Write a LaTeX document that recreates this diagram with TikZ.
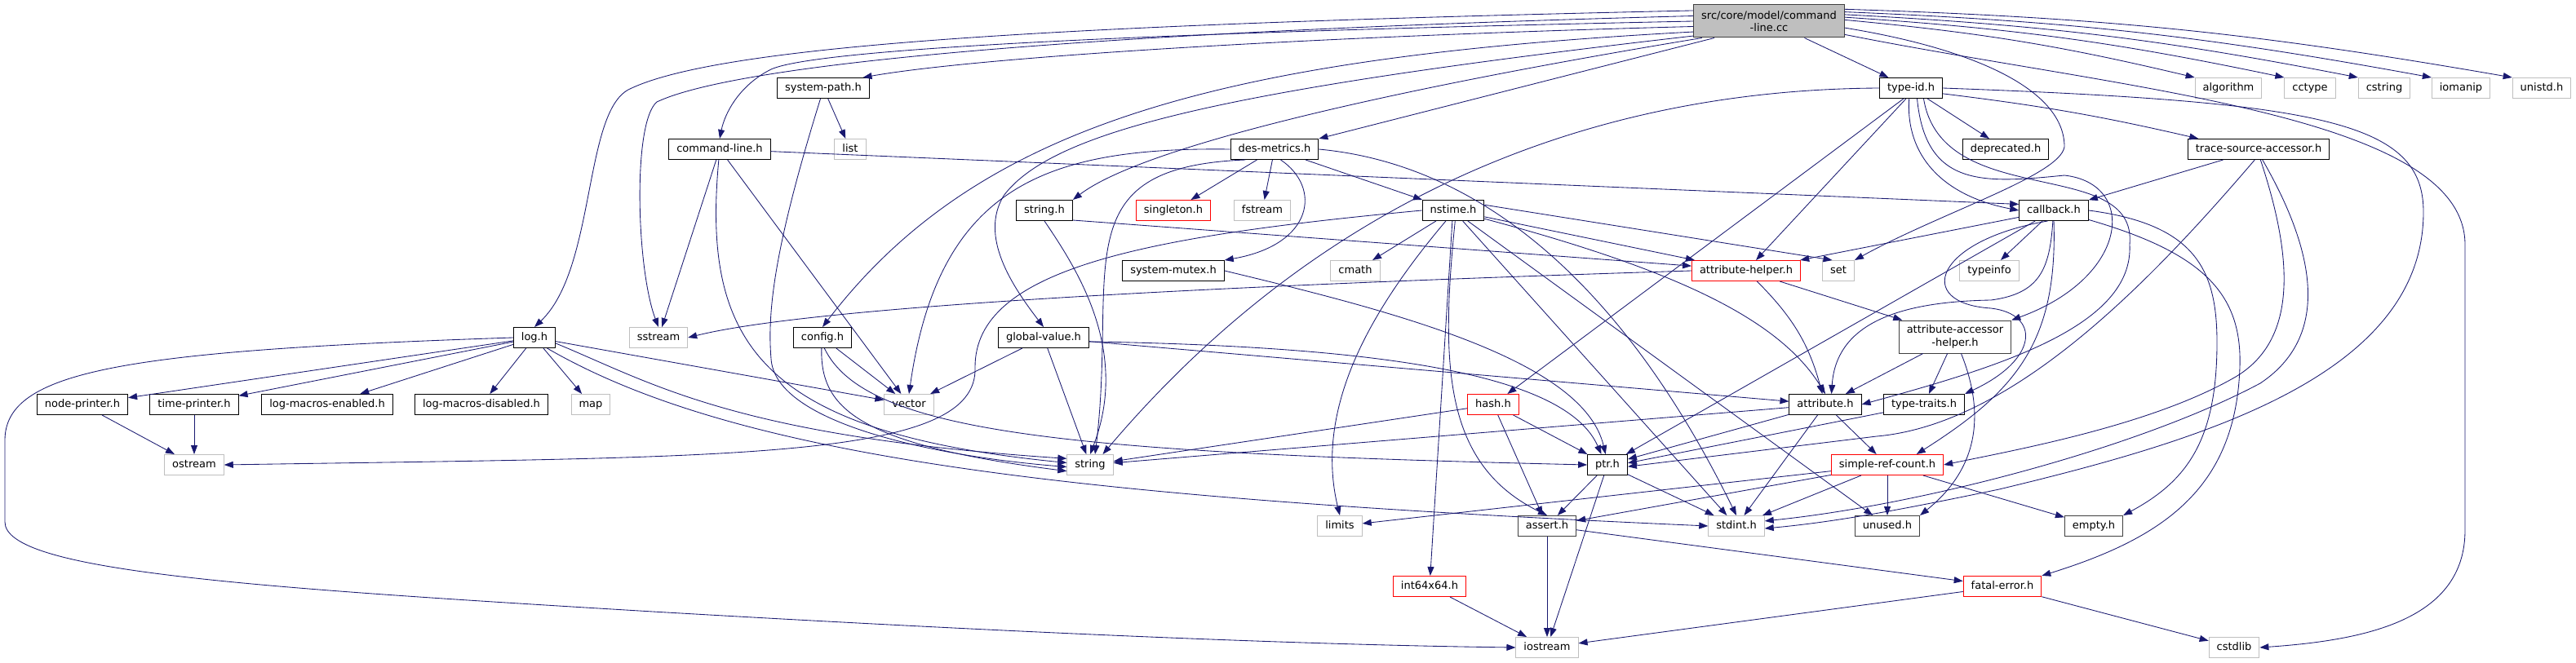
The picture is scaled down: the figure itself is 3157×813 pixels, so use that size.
\documentclass[tikz,border=0pt]{standalone}
\usepackage{fontspec}
\setmainfont{DejaVu Sans}
\usetikzlibrary{arrows.meta}

\definecolor{edgeblue}{HTML}{191970}
\definecolor{extgray}{HTML}{BFBFBF}
\definecolor{rootedge}{HTML}{404040}

\begin{document}
\begin{tikzpicture}[
  x=1pt, y=-1pt,
  hdrbox/.style ={rectangle, draw=black, fill=white, line width=1pt,
                  font=\fontsize{13}{15.5}\selectfont, inner xsep=9.5pt, inner ysep=0pt,
                  minimum height=25pt, text height=9.6pt, text depth=2.9pt},
  sysbox/.style ={hdrbox, draw=extgray},
  cutbox/.style ={hdrbox, draw=red},
  twoline/.style={align=center, text height=, text depth=, minimum height=40pt},
  rootbox/.style={hdrbox, twoline, fill=extgray, draw=rootedge},
  incl/.style   ={draw=edgeblue, line width=0.85pt, -{Stealth[length=11pt, width=8pt, inset=0pt]}},
]
\useasboundingbox (0,0) rectangle (3157,813);

% ---------------- the file itself ----------------
\node[rootbox] (root) at (2168,26) {src/core/model/command\\-line.cc};

% ---------------- rank 1 ----------------
\node[hdrbox] (syspath) at (1009,108) {system-path.h};
\node[hdrbox] (typeid)  at (2342,108) {type-id.h};
\node[sysbox] (algo)    at (2731,108) {algorithm};
\node[sysbox] (cctype)  at (2831,108) {cctype};
\node[sysbox] (cstring) at (2922,108) {cstring};
\node[sysbox] (iomanip) at (3016,108) {iomanip};
\node[sysbox] (unistd)  at (3115,108) {unistd.h};

% ---------------- rank 2 ----------------
\node[hdrbox] (cmdline) at (882,183)  {command-line.h};
\node[sysbox] (list)    at (1042,183) {list};
\node[hdrbox] (desmet)  at (1562,183) {des-metrics.h};
\node[hdrbox] (deprec)  at (2458,183) {deprecated.h};
\node[hdrbox] (tsacc)   at (2768,183) {trace-source-accessor.h};

% ---------------- rank 3 ----------------
\node[hdrbox] (strh)      at (1280,258) {string.h};
\node[cutbox] (singleton) at (1438,258) {singleton.h};
\node[sysbox] (fstream)   at (1547,258) {fstream};
\node[hdrbox] (nstime)    at (1781,258) {nstime.h};
\node[hdrbox] (callback)  at (2517,258) {callback.h};

% ---------------- rank 4 ----------------
\node[hdrbox] (sysmutex) at (1438,332) {system-mutex.h};
\node[sysbox] (cmath)    at (1661,332) {cmath};
\node[cutbox] (attrhelp) at (2140,332) {attribute-helper.h};
\node[sysbox] (set)      at (2253,332) {set};
\node[sysbox] (typeinfo) at (2438,332) {typeinfo};

% ---------------- rank 5 ----------------
\node[hdrbox] (logh)    at (655,414)  {log.h};
\node[sysbox] (sstream) at (807,414)  {sstream};
\node[hdrbox] (config)  at (1008,414) {config.h};
\node[hdrbox] (gvalue)  at (1279,414) {global-value.h};
\node[hdrbox, twoline, draw=rootedge] (attracc) at (2396,413) {attribute-accessor\\-helper.h};

% ---------------- rank 6 ----------------
\node[hdrbox] (nodepr)  at (101,496)  {node-printer.h};
\node[hdrbox] (timepr)  at (238,496)  {time-printer.h};
\node[hdrbox] (lmen)    at (401,496)  {log-macros-enabled.h};
\node[hdrbox] (lmdis)   at (590,496)  {log-macros-disabled.h};
\node[sysbox] (map)     at (724,496)  {map};
\node[sysbox] (vector)  at (1114,496) {vector};
\node[cutbox] (hash)    at (1830,496) {hash.h};
\node[hdrbox] (attr)    at (2237,496) {attribute.h};
\node[hdrbox] (ttraits) at (2358,496) {type-traits.h};

% ---------------- rank 7 ----------------
\node[sysbox] (ostream) at (238,570)  {ostream};
\node[sysbox] (string)  at (1336,570) {string};
\node[hdrbox] (ptr)     at (1970,570) {ptr.h};
\node[cutbox] (srcount) at (2313,570) {simple-ref-count.h};

% ---------------- rank 8 to 10 ----------------
\node[sysbox] (limits)   at (1642,645) {limits};
\node[hdrbox, draw=rootedge] (assert) at (1896,645) {assert.h};
\node[sysbox] (stdint)   at (2128,645) {stdint.h};
\node[hdrbox, draw=rootedge] (unused) at (2313,645) {unused.h};
\node[hdrbox, draw=rootedge] (empty)  at (2566,645) {empty.h};
\node[cutbox] (int64)    at (1752,719) {int64x64.h};
\node[cutbox] (fatal)    at (2454,719) {fatal-error.h};
\node[sysbox] (iostream) at (1896,794) {iostream};
\node[sysbox] (cstdlib)  at (2738,794) {cstdlib};

% ---------------- includes of command-line.cc ----------------
\draw[incl] (root.172) .. controls (1300,30) and (880,55) .. (770,110)
            .. controls (715,140) and (730,330) .. (logh.north);
\draw[incl] (root.176) .. controls (1300,40) and (900,80) .. (805,125)
            .. controls (775,150) and (780,330) .. (sstream.north);
\draw[incl] (root.180) .. controls (1400,40) and (1000,60) .. (945,85)
            .. controls (905,105) and (888,140) .. (cmdline.north);
\draw[incl] (root.184) .. controls (1600,45) and (1200,70) .. (syspath.15);
\draw[incl] (root.188) .. controls (1500,70) and (1200,150) .. (config.north);
\draw[incl] (root.191) .. controls (1500,110) and (1290,160) .. (1230,240)
            .. controls (1200,290) and (1240,350) .. (gvalue.north);
\draw[incl] (root.194) .. controls (1700,110) and (1400,180) .. (strh.north east);
\draw[incl] (root.197) -- (desmet.north east);
\draw[incl] (root) -- (typeid);
\draw[incl] (root.1) to[bend left=4] (algo.north west);
\draw[incl] (root.3) to[bend left=4] (cctype.north west);
\draw[incl] (root.5) to[bend left=4] (cstring.north west);
\draw[incl] (root.7) to[bend left=4] (iomanip.north west);
\draw[incl] (root.9) to[bend left=4] (unistd.north west);
\draw[incl] (root.-5) .. controls (2420,60) and (2530,110) .. (2530,180)
            .. controls (2525,215) and (2380,260) .. (set.north east);
\draw[incl] (root.-10) .. controls (2600,110) and (3021,140) .. (3021,300) -- (3021,650)
            .. controls (3021,760) and (2900,785) .. (cstdlib.east);

% ---------------- rank 1 headers ----------------
\draw[incl] (syspath) -- (list);
\draw[incl] (syspath.255) .. controls (950,300) and (940,380) .. (945,440)
            .. controls (950,520) and (1150,560) .. (string.185);

\draw[incl] (typeid) -- (deprec);
\draw[incl] (typeid.-10) to[bend left=3] (tsacc.170);
\draw[incl] (typeid.235) -- (hash);
\draw[incl] (typeid.245) -- (attrhelp);
\draw[incl] (typeid.west) .. controls (1950,110) and (1620,240) .. (string.40);
\draw[incl] (typeid.260) .. controls (2335,190) and (2380,240) .. (callback.west);
\draw[incl] (typeid.-60) .. controls (2360,230) and (2430,225) .. (2530,215)
            .. controls (2620,225) and (2610,340) .. (attracc.north east);
\draw[incl] (typeid.-40) .. controls (2380,260) and (2620,190) .. (2610,300)
            .. controls (2615,400) and (2450,450) .. (attr.east);
\draw[incl] (typeid.east) .. controls (2850,125) and (2970,150) .. (2970,260)
            .. controls (2970,460) and (2700,540) .. (2450,600)
            .. controls (2330,625) and (2250,640) .. (stdint.-5);

% ---------------- rank 2 headers ----------------
\draw[incl] (cmdline) -- (sstream);
\draw[incl] (cmdline) -- (vector);
\draw[incl] (cmdline.265) .. controls (860,420) and (930,530) .. (string.175);
\draw[incl] (cmdline) -- (callback.170);

\draw[incl] (desmet) -- (nstime);
\draw[incl] (desmet) -- (singleton);
\draw[incl] (desmet) -- (fstream);
\draw[incl] (desmet.-60) .. controls (1620,230) and (1610,300) .. (sysmutex.north east);
\draw[incl] (desmet.west) .. controls (1280,180) and (1150,230) .. (vector.north);
\draw[incl] (desmet.200) .. controls (1300,205) and (1370,330) .. (string.65);
\draw[incl] (desmet.east) .. controls (1800,200) and (1980,330) .. (stdint.north);

\draw[incl] (tsacc) -- (callback);
\draw[incl] (tsacc.250) .. controls (2640,340) and (2470,520) .. (2300,535) -- (ptr.-5);
\draw[incl] (tsacc.-80) .. controls (2815,330) and (2810,420) .. (2740,462)
            .. controls (2640,520) and (2480,550) .. (srcount.east);
\draw[incl] (tsacc.-70) .. controls (2850,330) and (2845,420) .. (2770,470)
            .. controls (2620,550) and (2350,620) .. (stdint.10);

% ---------------- rank 3 headers ----------------
\draw[incl] (strh.south) .. controls (1320,330) and (1385,430) .. (string.north);
\draw[incl] (strh.-19) -- (attrhelp.175);

\draw[incl] (nstime) -- (cmath);
\draw[incl] (nstime) -- (attrhelp);
\draw[incl] (nstime.10) -- (set.120);
\draw[incl] (nstime.235) .. controls (1680,380) and (1610,500) .. (limits.north);
\draw[incl] (nstime.265) -- (int64);
\draw[incl] (nstime.280) .. controls (1765,450) and (1770,570) .. (assert.north);
\draw[incl] (nstime) -- (stdint);
\draw[incl] (nstime) -- (unused);
\draw[incl] (nstime.-15) .. controls (2050,330) and (2180,390) .. (attr.north);
\draw[incl] (nstime.west) .. controls (1400,290) and (1195,330) .. (1195,450)
            .. controls (1200,565) and (900,560) .. (ostream.east);

\draw[incl] (callback) -- (attrhelp);
\draw[incl] (callback) -- (typeinfo);
\draw[incl] (callback) -- (ptr);
\draw[incl] (callback.265) .. controls (2512,330) and (2500,360) .. (2440,368)
            .. controls (2320,370) and (2250,400) .. (attr.60);
\draw[incl] (callback.240) .. controls (2370,295) and (2345,372) .. (2440,378)
            .. controls (2500,385) and (2500,440) .. (ttraits.north east);
\draw[incl] (callback.270) .. controls (2522,420) and (2470,480) .. (srcount.20);
\draw[incl] (callback.east) .. controls (2690,275) and (2717,330) .. (2717,420)
            .. controls (2717,540) and (2680,590) .. (empty.north east);
\draw[incl] (callback.-15) .. controls (2700,310) and (2748,360) .. (2745,450)
            .. controls (2740,600) and (2650,660) .. (fatal.north east);

% ---------------- rank 4 headers ----------------
\draw[incl] (sysmutex.east) .. controls (1700,380) and (1940,440) .. (ptr.100);

\draw[incl] (attrhelp.west) .. controls (1500,350) and (1000,375) .. (sstream.east);
\draw[incl] (attrhelp) -- (attracc);
\draw[incl] (attrhelp) to[bend left=15] (attr);

% ---------------- rank 5 headers ----------------
\draw[incl] (logh) -- (nodepr);
\draw[incl] (logh) -- (timepr);
\draw[incl] (logh) -- (lmen);
\draw[incl] (logh) -- (lmdis);
\draw[incl] (logh) -- (map);
\draw[incl] (logh) -- (vector);
\draw[incl] (logh.-15) .. controls (800,470) and (900,535) .. (string.165);
\draw[incl] (logh.-40) .. controls (900,560) and (1300,610) .. (stdint.west);
\draw[incl] (logh.west) .. controls (150,430) and (6,455) .. (6,540) -- (6,640)
            .. controls (6,700) and (300,720) .. (800,750)
            .. controls (1400,785) and (1700,792) .. (iostream.west);

\draw[incl] (config) -- (vector);
\draw[incl] (config.265) .. controls (1005,500) and (1050,545) .. (string.195);
\draw[incl] (config.280) .. controls (1060,530) and (1300,555) .. (ptr.west);

\draw[incl] (gvalue) -- (vector);
\draw[incl] (gvalue) -- (string.110);
\draw[incl] (gvalue) -- (attr);
\draw[incl] (gvalue.-5) .. controls (1700,425) and (1920,460) .. (ptr.120);

\draw[incl] (attracc) -- (attr);
\draw[incl] (attracc) -- (ttraits);
\draw[incl] (attracc.-70) .. controls (2430,500) and (2430,570) .. (unused.north east);

% ---------------- lower ranks ----------------
\draw[incl] (nodepr) -- (ostream);
\draw[incl] (timepr) -- (ostream);

\draw[incl] (hash) -- (string);
\draw[incl] (hash) -- (ptr);
\draw[incl] (hash) -- (assert);

\draw[incl] (attr) -- (string);
\draw[incl] (attr) -- (ptr);
\draw[incl] (attr) -- (stdint);
\draw[incl] (attr) -- (srcount);

\draw[incl] (ttraits) -- (ptr.5);

\draw[incl] (ptr) -- (assert);
\draw[incl] (ptr) -- (stdint);
\draw[incl] (ptr) -- (iostream);

\draw[incl] (srcount) -- (limits);
\draw[incl] (srcount) -- (assert);
\draw[incl] (srcount) -- (stdint);
\draw[incl] (srcount) -- (unused);
\draw[incl] (srcount) -- (empty);

\draw[incl] (assert) -- (iostream);
\draw[incl] (assert) -- (fatal);
\draw[incl] (int64) -- (iostream);
\draw[incl] (fatal) -- (iostream);
\draw[incl] (fatal) -- (cstdlib);

\end{tikzpicture}
\end{document}
